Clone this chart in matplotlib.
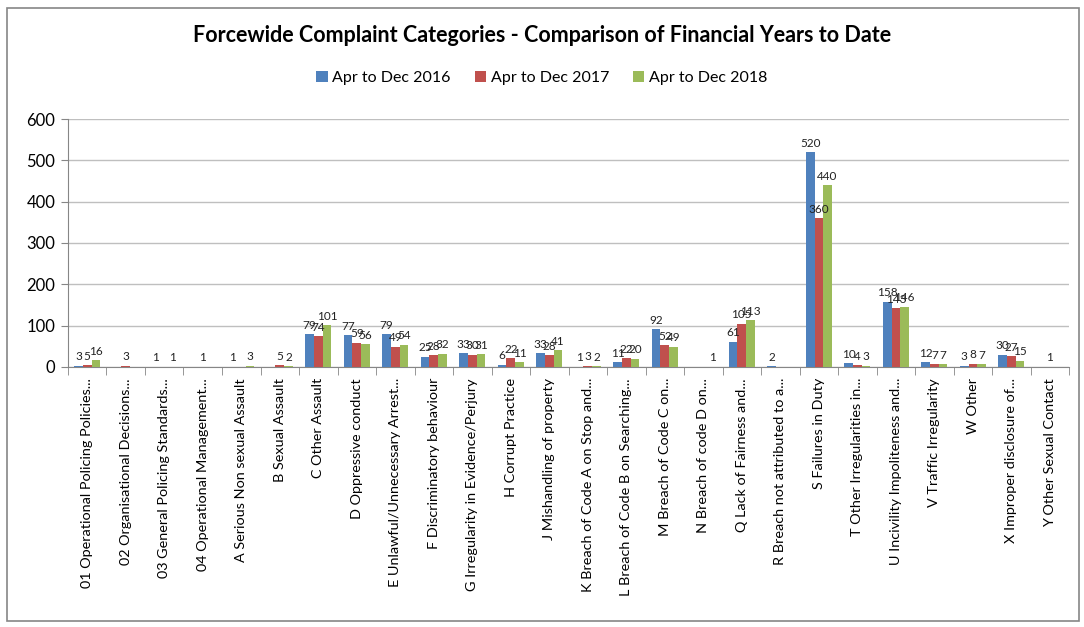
import numpy as np
import matplotlib
matplotlib.use("Agg")
import matplotlib.pyplot as plt
from matplotlib.patches import Rectangle

plt.rcParams['font.family'] = ['Lato', 'DejaVu Sans']

categories = [
    "01 Operational Policing Policies...",
    "02 Organisational Decisions...",
    "03 General Policing Standards...",
    "04 Operational Management...",
    "A Serious Non sexual Assault",
    "B Sexual Assault",
    "C Other Assault",
    "D Oppressive conduct",
    "E Unlawful/Unnecessary Arrest...",
    "F Discriminatory behaviour",
    "G Irregularity in Evidence/Perjury",
    "H Corrupt Practice",
    "J Mishandling of property",
    "K Breach of Code A on Stop and...",
    "L Breach of Code B on Searching...",
    "M Breach of Code C on...",
    "N Breach of code D on...",
    "Q Lack of Fairness and...",
    "R Breach not attributed to a...",
    "S Failures in Duty",
    "T Other Irregularities in...",
    "U Incivility Impoliteness and...",
    "V Traffic Irregularity",
    "W Other",
    "X Improper disclosure of...",
    "Y Other Sexual Contact",
]

nan = np.nan
# blanks (no value recorded) kept as NaN
apr_dec_2016 = [3, nan, 1, nan, 1, nan, 79, 77, 79, 25, 33, 6, 33, 1, 11, 92, nan, 61, 2, 520, 10, 158, 12, 3, 30, nan]
apr_dec_2017 = [5, 3, nan, 1, nan, 5, 74, 59, 49, 28, 30, 22, 28, 3, 22, 52, nan, 105, nan, 360, 4, 143, 7, 8, 27, 1]
apr_dec_2018 = [16, nan, 1, nan, 3, 2, 101, 56, 54, 32, 31, 11, 41, 2, 20, 49, 1, 113, nan, 440, 3, 146, 7, 7, 15, nan]

series = [
    ("Apr to Dec 2016", apr_dec_2016, "#4F81BD"),
    ("Apr to Dec 2017", apr_dec_2017, "#C0504D"),
    ("Apr to Dec 2018", apr_dec_2018, "#9BBB59"),
]

fig = plt.figure(figsize=(10.84, 6.27), dpi=100)
ax = fig.add_axes([0.0627, 0.4147, 0.9236, 0.3955])

x = np.arange(len(categories))
w = 0.226
for i, (name, vals, col) in enumerate(series):
    vals = np.array(vals, dtype=float)
    pos = x + (i - 1) * w
    ax.bar(pos, np.nan_to_num(vals), w, color=col, label=name, zorder=3)
    for p, v in zip(pos, vals):
        if not np.isnan(v):
            ax.text(p, v + 8, f"{int(v)}", ha='center', va='bottom', fontsize=8.5, color='#222222', zorder=4)

ax.set_xlim(-0.5, len(categories) - 0.5)
ax.set_ylim(0, 600)
ax.set_yticks(range(0, 601, 100))
ax.tick_params(axis='y', labelsize=12, length=5, color='#868686', pad=4)
ax.yaxis.grid(True, color='#BFBFBF', linewidth=1, zorder=0)
ax.set_axisbelow(True)

ax.set_xticks(x)
ax.set_xticklabels(categories, rotation=90, fontsize=10.4, va='top', ha='center')
ax.set_xticks(np.arange(-0.5, len(categories)), minor=True)
ax.tick_params(axis='x', which='major', length=0, pad=8)
ax.tick_params(axis='x', which='minor', length=6, color='#868686')

for s in ['top', 'right']:
    ax.spines[s].set_visible(False)
for s in ['left', 'bottom']:
    ax.spines[s].set_color('#868686')

fig.text(0.5, 0.944, "Forcewide Complaint Categories - Comparison of Financial Years to Date",
         ha='center', va='center', fontsize=15.5, fontweight='bold')
fig.legend(loc='center', bbox_to_anchor=(0.5, 0.875), ncol=3, frameon=False, fontsize=11.5,
           handlelength=0.7, handleheight=0.7, handletextpad=0.3, columnspacing=1.5)

fig.patches.append(Rectangle((0.006, 0.01), 0.989, 0.978, transform=fig.transFigure,
                             fill=False, edgecolor='#868686', linewidth=1.2))

fig.savefig("out.png", dpi=100)
